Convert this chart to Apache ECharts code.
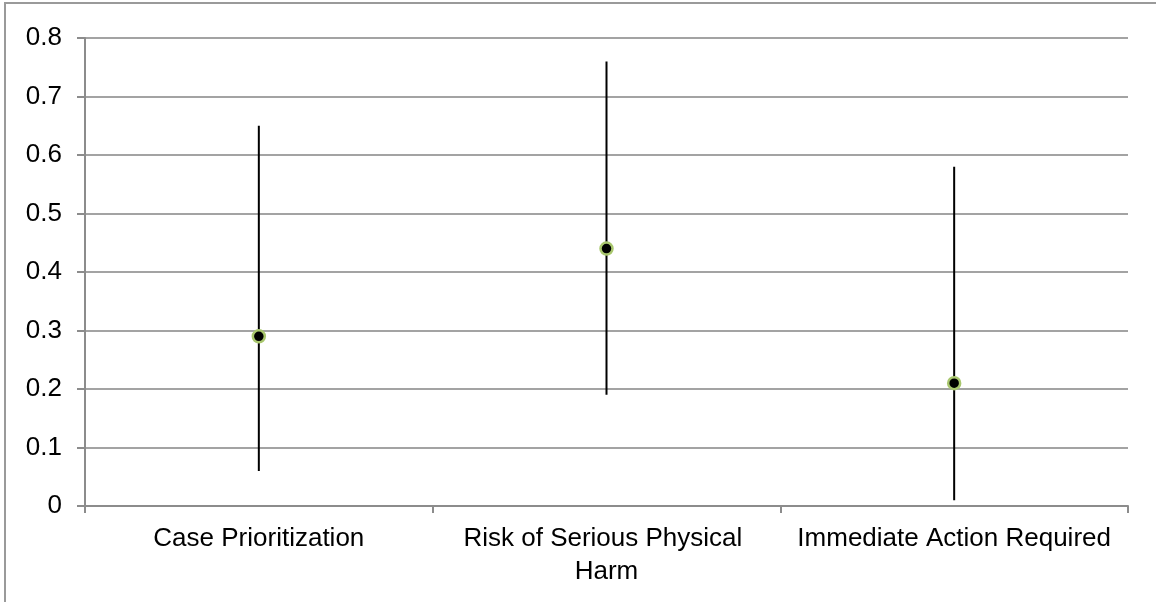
<!DOCTYPE html>
<html>
<head>
<meta charset="utf-8">
<script src="https://cdn.jsdelivr.net/npm/echarts@6/dist/echarts.min.js"></script>
<style>
html,body{margin:0;padding:0;background:#fff;}
#c{width:1156px;height:602px;}
</style>
</head>
<body>
<div id="c"></div>
<script>
const categories = ['Case Prioritization', 'Risk of Serious Physical Harm', 'Immediate Action Required'];
const pointValues = [0.29, 0.44, 0.21];
const lowValues = [0.06, 0.19, 0.01];
const highValues = [0.65, 0.76, 0.58];
const yTicks = { min: 0, max: 0.8, interval: 0.1 };

const chart = echarts.init(document.getElementById('c'), null, { renderer: 'canvas' });
const font = '"Liberation Sans", Arial, sans-serif';

chart.setOption({
  animation: false,
  backgroundColor: '#fff',
  graphic: [{
    type: 'rect',
    shape: { x: 5, y: 3, width: 1170, height: 620 },
    style: { fill: 'none', stroke: '#9a9a9a', lineWidth: 2 },
    z: -1
  }],
  grid: { left: 85, right: 28, top: 38, bottom: 96, containLabel: false },
  xAxis: {
    type: 'category',
    data: categories,
    boundaryGap: true,
    axisLine: { lineStyle: { color: '#8c8c8c', width: 2 } },
    axisTick: { show: true, length: 7, inside: false, lineStyle: { color: '#8c8c8c', width: 2 } },
    axisLabel: {
      color: '#000', fontFamily: font, fontSize: 26, lineHeight: 33, margin: 16,
      interval: 0, width: 330, overflow: 'break'
    },
    splitLine: { show: false }
  },
  yAxis: {
    type: 'value',
    min: yTicks.min, max: yTicks.max, interval: yTicks.interval,
    axisLine: { show: true, lineStyle: { color: '#8c8c8c', width: 2 } },
    axisTick: { show: true, length: 8, lineStyle: { color: '#8c8c8c', width: 2 } },
    axisLabel: { color: '#000', fontFamily: font, fontSize: 26, margin: 23 },
    splitLine: { show: true, lineStyle: { color: '#a3a3a3', width: 2 } }
  },
  series: [
    {
      type: 'custom',
      data: categories.map((c, i) => [i, lowValues[i], highValues[i]]),
      encode: { x: 0, y: [1, 2] },
      renderItem: function (params, api) {
        const lo = api.coord([api.value(0), api.value(1)]);
        const hi = api.coord([api.value(0), api.value(2)]);
        return {
          type: 'line',
          shape: { x1: lo[0], y1: lo[1], x2: hi[0], y2: hi[1] },
          style: { stroke: '#000', lineWidth: 2 }
        };
      },
      z: 2
    },
    {
      type: 'scatter',
      data: pointValues,
      symbol: 'circle',
      symbolSize: 12,
      itemStyle: { color: '#000', borderColor: '#a9c76e', borderWidth: 2.5, opacity: 1 },
      z: 3
    }
  ]
});
</script>
</body>
</html>
